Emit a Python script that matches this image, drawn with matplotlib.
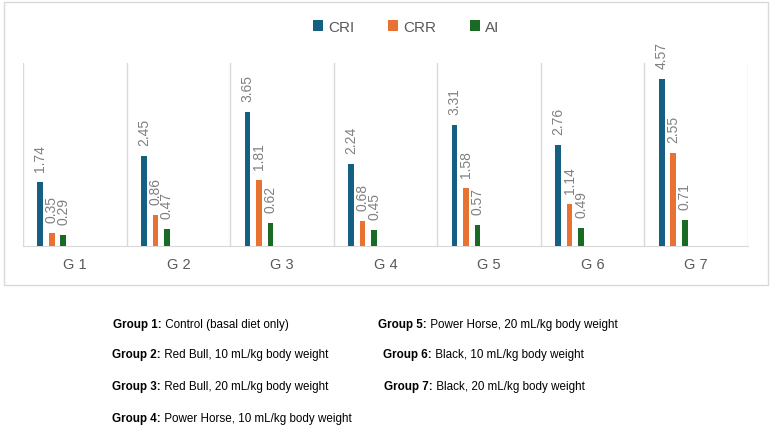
import matplotlib
matplotlib.use("Agg")
import matplotlib.pyplot as plt
from matplotlib.patches import Rectangle
import numpy as np

groups = ["G1", "G2", "G3", "G4", "G5", "G6", "G7"]
series_names = ["CRI", "CRR", "AI"]
cri = [1.74, 2.45, 3.65, 2.24, 3.31, 2.76, 4.57]
crr = [0.35, 0.86, 1.81, 0.68, 1.58, 1.14, 2.55]
ai = [0.29, 0.47, 0.62, 0.45, 0.57, 0.49, 0.71]
colors = ["#156082", "#E97132", "#196B24"]

notes_left = [
    ("Group 1:", " Control (basal diet only)"),
    ("Group 2:", " Red Bull, 10 mL/kg body weight"),
    ("Group 3:", " Red Bull, 20 mL/kg body weight"),
    ("Group 4:", " Power Horse, 10 mL/kg body weight"),
]
notes_right = [
    ("Group 5:", " Power Horse, 20 mL/kg body weight"),
    ("Group 6:", " Black, 10 mL/kg body weight"),
    ("Group 7:", " Black, 20 mL/kg body weight"),
]

W, H = 775, 431
fig = plt.figure(figsize=(W / 100, H / 100), dpi=100)
fig.patch.set_facecolor("white")

# outer chart border
fig.patches.append(Rectangle((4 / W, 1 - 286 / H), 764 / W, 283 / H,
                             transform=fig.transFigure, fill=False,
                             edgecolor="#d9d9d9", linewidth=1.0))

ax = fig.add_axes([23 / W, 1 - 247 / H, 725 / W, 183 / H])
x = np.arange(len(groups))
offsets = [-0.333, -0.222, -0.111]
bw = 0.055
label_font = ["Liberation Sans", "DejaVu Sans"]
for vals, off, col, name in zip([cri, crr, ai], offsets, colors, series_names):
    bars = ax.bar(x + off, vals, width=bw, color=col, label=name, zorder=3)
    for b, v in zip(bars, vals):
        ax.annotate(f"{v:.2f}", (b.get_x() + b.get_width() / 2, v),
                    xytext=(0, 11), textcoords="offset pixels",
                    rotation=90, ha="center", va="bottom",
                    fontsize=10, color="#808080", family=label_font)

ax.set_xlim(-0.5, len(groups) - 0.5)
ax.set_ylim(0, 5)
for s in ["top", "right", "left"]:
    ax.spines[s].set_visible(False)
ax.spines["bottom"].set_color("#d9d9d9")
for b in np.arange(-0.5, len(groups), 1.0):
    ax.axvline(b, color="#d9d9d9", linewidth=1.0, zorder=1)
ax.set_yticks([])
ax.set_xticks(x)
ax.set_xticklabels([" ".join(g) for g in groups], fontsize=10.5,
                   color="#595959", family=label_font)
ax.tick_params(axis="x", length=0, pad=8)

leg = fig.legend(loc="center", bbox_to_anchor=(406 / W, 1 - 28 / H), ncol=3,
                 frameon=False, handlelength=0.7, handleheight=0.7,
                 handletextpad=0.3, columnspacing=2.2,
                 prop={"family": label_font, "size": 11})
for t in leg.get_texts():
    t.set_color("#595959")

note_font = ["Liberation Sans", "DejaVu Sans"]
NFS = 8.4

def note(xp, yp, bold, rest):
    t1 = fig.text(xp / W, 1 - yp / H, bold, fontsize=NFS, fontweight="bold",
                  family=note_font, va="center", ha="left")
    fig.canvas.draw()
    bb = t1.get_window_extent()
    fig.text(bb.x1 / W, 1 - yp / H, rest, fontsize=NFS, family=note_font,
             va="center", ha="left")

for i, (b, r) in enumerate(notes_left):
    note([113, 112, 112, 112][i], [325, 355, 387, 419][i], b, r)
for i, (b, r) in enumerate(notes_right):
    note([378, 383, 384][i], [325, 355, 387][i], b, r)

fig.savefig("out.png", dpi=100, facecolor="white")
